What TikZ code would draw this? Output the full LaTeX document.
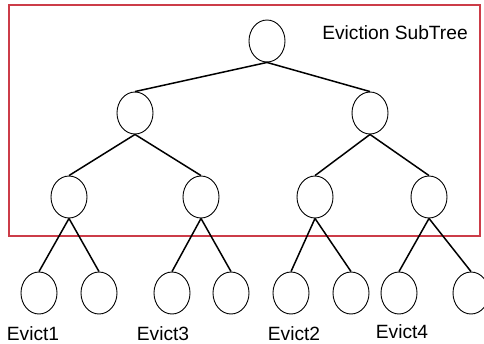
\documentclass[tikz,border=0pt]{standalone}
\usepackage{fontspec}
\setmainfont{Liberation Sans}
\usetikzlibrary{shapes.geometric}
\definecolor{boxred}{RGB}{204,60,72}
\begin{document}
\begin{tikzpicture}[x=1pt,y=-1pt,
  tn/.style={draw=black,ellipse,line width=0.9pt,minimum width=36pt,minimum height=42pt,inner sep=0pt},
  edge/.style={line width=1.5pt,black},
  lbl/.style={font=\fontsize{19.2}{21}\selectfont,inner sep=0pt,anchor=base}]
\useasboundingbox (0,0) rectangle (484,343);
\draw[boxred,line width=1.2pt] (9,5) rectangle (480,236);
\node[lbl] (title) at (395,39) {Eviction SubTree};
\node[tn] (r) at (267,41) {};
\node[tn] (a) at (135,113) {};
\node[tn] (b) at (370,113) {};
\node[tn] (a1) at (69,197) {};
\node[tn] (a2) at (201,197) {};
\node[tn] (b1) at (315,197) {};
\node[tn] (b2) at (429,197) {};
\node[tn] (l1) at (39,293) {};
\node[tn] (l2) at (99,293) {};
\node[tn] (l3) at (172,293) {};
\node[tn] (l4) at (231,293) {};
\node[tn] (l5) at (291,293) {};
\node[tn] (l6) at (351,293) {};
\node[tn] (l7) at (399,293) {};
\node[tn] (l8) at (471,293) {};
\foreach \p/\c in {r/a,r/b,a/a1,a/a2,b/b1,b/b2,a1/l1,a1/l2,a2/l3,a2/l4,b1/l5,b1/l6,b2/l7,b2/l8}
  \draw[edge] (\p.south) -- (\c.north);
\node[lbl] (e1) at (33,340) {Evict1};
\node[lbl] (e3) at (163,340) {Evict3};
\node[lbl] (e2) at (294,340) {Evict2};
\node[lbl] (e4) at (402,338) {Evict4};
\end{tikzpicture}
\end{document}
